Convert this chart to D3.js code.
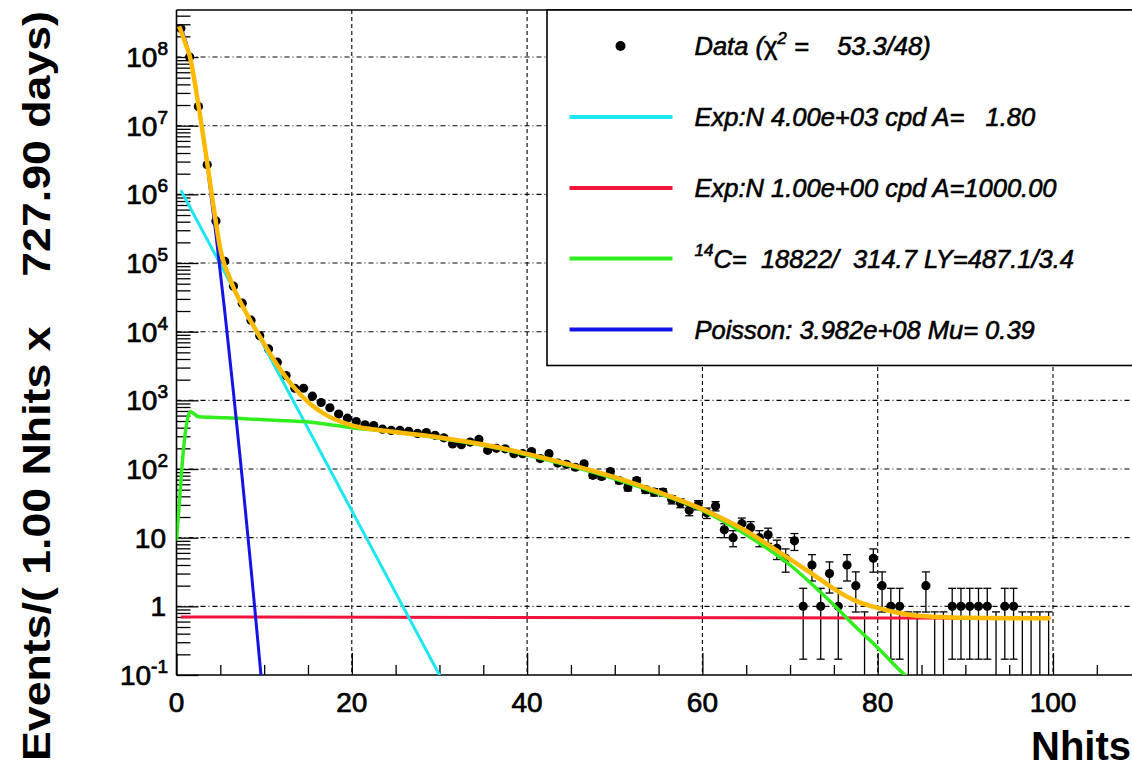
<!DOCTYPE html>
<html>
<head>
<meta charset="utf-8">
<script src="https://cdn.jsdelivr.net/npm/d3@7/dist/d3.min.js"></script>
<style>
body { margin: 0; background: #fff; }
text { font-family: "Liberation Sans", Arial, Helvetica, sans-serif; }
</style>
</head>
<body>
<script>
// counts per Nhits bin (bin centres at i + 0.5)
var counts = [
  2.6e8, 1.0e8, 1.9e7, 2.7e6, 4.1e5, 1.06e5, 4.6e4, 2.6e4, 1.47e4, 8.7e3,
  5.6e3, 3.6e3, 2.3e3, 1.5e3, 1.5e3, 1150, 930, 780, 630, 550,
  490, 440, 430, 380, 365, 365, 355, 330, 340, 310,
  285, 232, 226, 247, 270, 187, 200, 197, 167, 167,
  180, 142, 167, 122, 117, 106, 119, 81, 78, 92,
  68, 54, 68, 50, 46, 46, 36, 32, 25, 30,
  23, 29, 13, 10, 16, 14, 10, 11, 7, 5,
  9, 1, 4, 1, 3, 1, 4, 2, 0, 5,
  2, 1, 1, 0, 0, 2, 0, 0, 1, 1,
  1, 1, 1, 0, 1, 1, 0, 0, 0, 0
];
var errScale = 0.83;      // error bar half size relative to sqrt(n), as drawn
var zeroBinTop = 0.83;    // upper edge drawn for empty bins

// fit components, [Nhits, events]
var totalFit = [[0.3,2.8e8],[1.0,1.6e8],[1.5,1.05e8],[2.5,2.0e7],[3.5,2.9e6],[4.5,3.9e5],[5.0,1.6e5],
  [5.5,9.2e4],[6.0,6.4e4],[6.5,4.4e4],[7.5,2.4e4],[8.5,1.4e4],[9.5,8.5e3],[11.4,3.4e3],[13.3,1.6e3],
  [15.2,900],[17.1,610],[19.8,440],[24.7,350],[30,288],[35,228],[40,166],[45,115],[50,76],[55,46],
  [60,26],[65,12.5],[68.9,6.0],[72.5,3.0],[75,1.8],[77.5,1.2],[80,0.95],[82,0.82],[84,0.74],
  [87,0.7],[90,0.68],[99.7,0.67]];
var expFast = [[0.5,1.15e6],[30.5,0.076]];
var expFlat = [[0.5,0.70],[99.7,0.67]];
var c14 = [[0,9],[0.4,44],[0.78,185],[1.16,460],[1.54,680],[1.92,650],[2.5,575],[5.7,556],[10,520],
  [14.5,490],[20,400],[25,345],[30,282],[35,222],[40,160],[45,110],[50,72],[55,44],[60,25],[65,11],
  [70,4.0],[72.5,2.1],[75,1.05],[77.5,0.5],[80,0.25],[83.1,0.1],[84,0.08]];
var poisson = [[0.5,2.7e8],[1.5,1.05e8],[2.5,2.05e7],[3.5,2.66e6],[4.5,2.6e5],[5.5,2.0e4],[6.5,1.3e3],
  [7.5,73],[8.5,3.6],[9.5,0.155],[10.5,0.006]];

var xMajor = [0, 20, 40, 60, 80, 100];
var yDecades = [-1, 0, 1, 2, 3, 4, 5, 6, 7, 8];

var legendRows = [
  {kind: "dot"},
  {kind: "line", color: "#1ee6f0"},
  {kind: "line", color: "#f0143c"},
  {kind: "line", color: "#33ee1e"},
  {kind: "line", color: "#1414e6"}
];

var W = 1132, H = 768;
var plotLeft = 176.5, plotTop = 10, plotBottom = 675;

var svg = d3.select("body").append("svg")
    .attr("width", W)
    .attr("height", H);

var x = d3.scaleLinear().domain([0, 110]).range([plotLeft, plotLeft + 110 * 8.765]);
var y = d3.scaleLog().domain([0.1, 4.84e8]).range([plotBottom, plotTop]);

svg.append("defs").append("clipPath").attr("id", "plot")
  .append("rect").attr("x", plotLeft).attr("y", plotTop)
  .attr("width", W - plotLeft + 20).attr("height", plotBottom - plotTop);

// grid
var grid = svg.append("g");
grid.selectAll(".gx").data(xMajor.slice(1)).enter().append("line")
  .attr("x1", function(d) { return x(d); }).attr("x2", function(d) { return x(d); })
  .attr("y1", plotTop).attr("y2", plotBottom)
  .attr("stroke", "#000").attr("stroke-width", 1.1).attr("stroke-dasharray", "4,3");
grid.selectAll(".gy").data(yDecades.slice(1)).enter().append("line")
  .attr("x1", plotLeft).attr("x2", W)
  .attr("y1", function(d) { return y(Math.pow(10, d)); })
  .attr("y2", function(d) { return y(Math.pow(10, d)); })
  .attr("stroke", "#000").attr("stroke-width", 1.1).attr("stroke-dasharray", "5,3,1,3");

// axes (ROOT-like ticks, drawn inward)
var xAxis = d3.axisTop(x).tickValues(d3.range(0, 111, 5)).tickFormat("").tickSizeOuter(0)
  .tickSize(10);
var gx = svg.append("g").attr("transform", "translate(0," + plotBottom + ")").call(xAxis);
gx.selectAll(".tick line").attr("y2", function(d) { return d % 20 === 0 ? -22 : -10; })
  .attr("stroke-width", 1.3);
gx.select(".domain").remove();

var yMinor = [];
yDecades.forEach(function(e) {
  for (var k = 1; k < 10; k++) {
    var v = k * Math.pow(10, e);
    if (v <= 4.84e8) yMinor.push(v);
  }
});
var yAxis = d3.axisRight(y).tickValues(yMinor).tickFormat("").tickSizeOuter(0);
var gy = svg.append("g").attr("transform", "translate(" + plotLeft + ",0)").call(yAxis);
gy.selectAll(".tick line").attr("x2", function(d) {
  var m = d / Math.pow(10, Math.floor(Math.log10(d) + 1e-9));
  return Math.abs(m - 1) < 1e-6 ? 22 : 14;
}).attr("stroke-width", 1.3);
gy.select(".domain").remove();

svg.append("line").attr("x1", plotLeft).attr("x2", W).attr("y1", plotBottom).attr("y2", plotBottom)
  .attr("stroke", "#000").attr("stroke-width", 1.6);
svg.append("line").attr("x1", plotLeft).attr("x2", W).attr("y1", plotTop).attr("y2", plotTop)
  .attr("stroke", "#000").attr("stroke-width", 1.6);
svg.append("line").attr("x1", plotLeft).attr("x2", plotLeft).attr("y1", plotTop).attr("y2", plotBottom)
  .attr("stroke", "#000").attr("stroke-width", 1.6);

// tick labels
svg.selectAll(".xl").data(xMajor).enter().append("text")
  .attr("x", function(d) { return x(d); })
  .attr("y", 712)
  .attr("text-anchor", "middle")
  .attr("font-size", 28)
  .attr("stroke", "#000").attr("stroke-width", 0.7)
  .text(function(d) { return d; });

var yl = svg.selectAll(".yl").data(yDecades).enter().append("text")
  .attr("text-anchor", "end")
  .attr("font-size", 28)
  .attr("stroke", "#000").attr("stroke-width", 0.7)
  .attr("y", function(d) { return y(Math.pow(10, d)) + 10; });
yl.each(function(d) {
  var t = d3.select(this);
  if (d === 0) { t.attr("x", 166).text("1"); return; }
  if (d === 1) { t.attr("x", 166).text("10"); return; }
  t.attr("x", 168);
  t.append("tspan").text("10");
  t.append("tspan").attr("dy", -12).attr("font-size", 19).text(d);
});

// data points
var pts = counts.map(function(c, i) { return {x: i + 0.5, n: c}; });
var dataG = svg.append("g").attr("clip-path", "url(#plot)");
pts.forEach(function(p) {
  var e = p.n > 0 ? errScale * Math.sqrt(p.n) : zeroBinTop;
  var hi = p.n + e, lo = p.n - e;
  var yHi = y(hi), yLo = lo > 0.1 ? y(lo) : plotBottom;
  dataG.append("line").attr("x1", x(p.x)).attr("x2", x(p.x)).attr("y1", yHi).attr("y2", yLo)
    .attr("stroke", "#000").attr("stroke-width", 1.3);
  dataG.append("line").attr("x1", x(p.x) - 4).attr("x2", x(p.x) + 4).attr("y1", yHi).attr("y2", yHi)
    .attr("stroke", "#000").attr("stroke-width", 1.3);
  if (lo > 0.1) {
    dataG.append("line").attr("x1", x(p.x) - 4).attr("x2", x(p.x) + 4).attr("y1", yLo).attr("y2", yLo)
      .attr("stroke", "#000").attr("stroke-width", 1.3);
  }
  if (p.n > 0) {
    dataG.append("circle").attr("cx", x(p.x)).attr("cy", y(p.n)).attr("r", 4.6).attr("fill", "#000");
  }
});

// fit curves
var line = d3.line()
  .x(function(d) { return x(d[0]); })
  .y(function(d) { return y(d[1]); })
  .curve(d3.curveMonotoneX);
var curves = svg.append("g").attr("clip-path", "url(#plot)");
[[expFlat, "#f0143c", 3], [expFast, "#1ee6f0", 3], [c14, "#33ee1e", 3.5],
 [poisson, "#1414e6", 3], [totalFit, "#ffba00", 4.5]].forEach(function(c) {
  curves.append("path").datum(c[0]).attr("d", line)
    .attr("fill", "none").attr("stroke", c[1]).attr("stroke-width", c[2])
    .attr("stroke-linejoin", "round");
});

// legend
var lg = svg.append("g");
lg.append("rect").attr("x", 547).attr("y", 10).attr("width", 620).attr("height", 355.5)
  .attr("fill", "#fff").attr("stroke", "#000").attr("stroke-width", 1.6);
var rowY = [46, 117, 188, 258.5, 329.5];
legendRows.forEach(function(r, i) {
  if (r.kind === "dot") {
    lg.append("circle").attr("cx", 620.5).attr("cy", rowY[i]).attr("r", 5).attr("fill", "#000");
  } else {
    lg.append("line").attr("x1", 569.5).attr("x2", 672.5).attr("y1", rowY[i]).attr("y2", rowY[i])
      .attr("stroke", r.color).attr("stroke-width", 4);
  }
});
var lt = lg.selectAll(".lt").data(rowY).enter().append("text")
  .attr("x", 694.5)
  .attr("y", function(d) { return d + 9; })
  .attr("font-size", 25.5)
  .attr("font-style", "italic")
  .attr("stroke", "#000").attr("stroke-width", 0.6)
  .style("white-space", "pre");
lt.each(function(d, i) {
  var t = d3.select(this);
  if (i === 0) {
    t.append("tspan").text("Data (");
    t.append("tspan").attr("font-style", "normal").text("\u03c7");
    t.append("tspan").attr("dy", -11).attr("font-size", 17).text("2");
    t.append("tspan").attr("dy", 11).text(" =    53.3/48)");
  } else if (i === 1) {
    t.text("Exp:N 4.00e+03 cpd A=   1.80");
  } else if (i === 2) {
    t.text("Exp:N 1.00e+00 cpd A=1000.00");
  } else if (i === 3) {
    t.append("tspan").attr("dy", -12).attr("font-size", 17).text("14");
    t.append("tspan").attr("dy", 12).text("C=  18822/  314.7 LY=487.1/3.4");
  } else {
    t.text("Poisson: 3.982e+08 Mu= 0.39");
  }
});

// axis titles
svg.append("text")
  .attr("x", 1131).attr("y", 760)
  .attr("text-anchor", "end")
  .attr("font-size", 40).attr("font-weight", "bold")
  .text("Nhits");

svg.append("text")
  .attr("transform", "translate(50,386) rotate(-90)")
  .attr("text-anchor", "middle")
  .attr("font-size", 39).attr("font-weight", "bold")
  .attr("textLength", 750).attr("lengthAdjust", "spacingAndGlyphs")
  .style("white-space", "pre")
  .text("Events/( 1.00 Nhits x    727.90 days)");
</script>
</body>
</html>
